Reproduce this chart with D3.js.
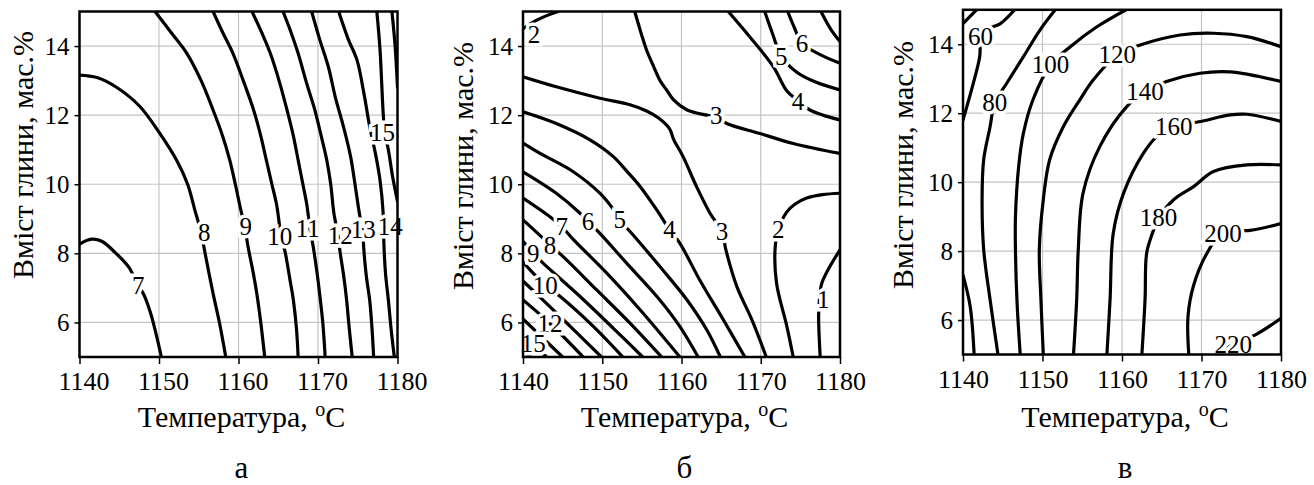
<!DOCTYPE html>
<html>
<head>
<meta charset="utf-8">
<script src="https://cdn.jsdelivr.net/npm/d3@7/dist/d3.min.js"></script>
<style>
  body { margin: 0; background: #fff; }
  svg { display: block; }
  svg text { font-family: "Liberation Serif", "Times New Roman", "DejaVu Serif", serif; }
</style>
</head>
<body>
<svg id="chart" width="1314" height="485"></svg>
<script>
const SERIF = "'Liberation Serif', 'Times New Roman', 'DejaVu Serif', serif";

// axes
const tempTicks = [1140, 1150, 1160, 1170, 1180];
const clayTicks = [6, 8, 10, 12, 14];
const tempDomain = [1140, 1180];
const clayDomain = [5, 15];

// panel а : contour lines, points are [temperature, clay %]
const linesA = [
  { v: 7,  pts: [[1140,8.27],[1141.5,8.41],[1142.8,8.35],[1144.5,8.02],[1146.2,7.6],[1147.3,7.1],[1148.1,6.8],[1148.9,6.3],[1149.6,5.7],[1150.3,5.0]] },
  { v: 8,  pts: [[1140,13.16],[1142.2,13.09],[1144.7,12.8],[1147.6,12.25],[1150.1,11.47],[1152.2,10.7],[1153.6,10.0],[1154.5,9.26],[1155.3,8.6],[1155.8,8.0],[1156.8,6.84],[1157.6,6.0],[1158.4,5.0]] },
  { v: 9,  pts: [[1149.5,15],[1151.5,14.4],[1153.5,13.79],[1155.3,13.0],[1156.8,12.15],[1158.0,11.4],[1158.9,10.7],[1159.6,10.0],[1160.2,9.35],[1160.8,8.75],[1161.2,8.19],[1161.8,7.5],[1162.3,6.84],[1162.8,6.0],[1163.3,5.0]] },
  { v: 10, pts: [[1156.8,15],[1158.0,14.4],[1159.3,13.79],[1160.6,13.0],[1161.9,12.15],[1162.8,11.4],[1163.5,10.7],[1164.2,10.0],[1164.8,9.4],[1165.3,8.6],[1165.9,8.0],[1166.5,7.2],[1166.9,6.65],[1167.3,5.8],[1167.5,5.0]] },
  { v: 11, pts: [[1161.7,15],[1162.9,14.4],[1164.0,13.79],[1165.1,13.0],[1166.1,12.15],[1166.9,11.4],[1167.5,10.7],[1168.1,10.0],[1168.6,9.4],[1169.0,8.7],[1169.4,8.19],[1169.9,7.4],[1170.2,6.84],[1170.6,6.0],[1170.9,5.0]] },
  { v: 12, pts: [[1165.6,15],[1166.6,14.4],[1167.5,13.79],[1168.6,12.9],[1169.6,12.15],[1170.4,11.4],[1171.1,10.7],[1171.6,10.0],[1172.0,9.16],[1172.5,8.55],[1172.8,8.0],[1173.2,7.4],[1173.6,6.65],[1173.9,5.9],[1174.3,5.0]] },
  { v: 13, pts: [[1169.2,15],[1170.2,14.2],[1171.3,13.4],[1172.2,12.5],[1173.2,11.67],[1174.1,10.8],[1174.7,9.93],[1175.2,9.16],[1175.6,8.65],[1175.8,8.0],[1176.1,7.3],[1176.5,6.65],[1176.8,5.8],[1177.0,5.0]] },
  { v: 14, pts: [[1172.6,15],[1173.8,14.2],[1174.9,13.6],[1175.8,12.6],[1176.5,11.67],[1177.3,10.8],[1177.8,10.12],[1178.2,9.16],[1178.25,8.7],[1178.3,8.2],[1178.5,7.4],[1178.85,6.65],[1179.2,5.8],[1179.6,5.0]] },
  { v: 15, pts: [[1177.4,15],[1177.8,13.9],[1178.2,12.05],[1178.4,11.5],[1178.85,11.0],[1179.4,10.2],[1180,9.5]] },
  { v: 16, pts: [[1179.3,15],[1179.7,14.0],[1180,12.8]] }
];
const labelsA = [
  ["7",1147.4,7.06],["8",1155.7,8.61],["9",1160.9,8.77],["10",1165.2,8.48],["11",1168.7,8.72],
  ["12",1172.8,8.51],["13",1175.7,8.70],["14",1179.1,8.77],["15",1178.1,11.5]
];

// panel б
const linesB = [
  { v: 2,  pts: [[1140,14.5],[1141.5,14.72],[1143,14.88],[1144.4,15]] },
  { v: 3,  pts: [[1154.1,15],[1155.0,14.3],[1155.6,13.88],[1156.5,13.4],[1157.3,13.0],[1158.2,12.7],[1159.0,12.44],[1160.7,12.15],[1163.2,12.0],[1164.4,11.95],[1165.7,11.76],[1169.9,11.47],[1174.1,11.18],[1180,10.89]] },
  { v: 3,  pts: [[1140,13.11],[1144.2,12.82],[1149.7,12.49],[1153.5,12.3],[1155.6,12.12],[1157.2,11.9],[1158.5,11.6],[1159.0,11.3],[1160.2,10.8],[1161.9,9.93],[1163.6,9.16],[1165.1,8.63],[1165.6,8.1],[1167.0,7.03],[1168.9,6.07],[1170.7,5.0]] },
  { v: 4,  pts: [[1165.9,15],[1168.6,14.27],[1171.6,13.4],[1173.3,12.7],[1174.7,12.42],[1176.2,12.15],[1180,11.86]] },
  { v: 5,  pts: [[1170.5,15],[1171.5,14.35],[1172.6,13.7],[1174.5,13.25],[1177,12.95],[1180,12.73]] },
  { v: 6,  pts: [[1173.4,15],[1174.3,14.5],[1175.2,14.08],[1177.5,13.75],[1180,13.5]] },
  { v: 7,  pts: [[1177.6,15],[1178.8,14.5],[1180,14.13]] },
  { v: 4,  pts: [[1140,12.1],[1144.2,11.76],[1148.5,11.28],[1151.4,10.8],[1153.2,10.35],[1154.8,9.93],[1156.9,9.25],[1158.5,8.68],[1159.8,8.29],[1162.3,7.23],[1165.3,6.07],[1168.0,5.0]] },
  { v: 5,  pts: [[1140,11.19],[1142.1,10.9],[1146.3,10.37],[1149.7,9.74],[1151.3,9.3],[1152.2,8.97],[1153.9,8.53],[1157.3,7.61],[1160.7,6.65],[1163.2,5.78],[1164.9,5.0]] },
  { v: 6,  pts: [[1140,10.36],[1144.2,9.74],[1147.2,9.16],[1148.2,8.92],[1149.7,8.58],[1153.1,7.71],[1156.9,6.75],[1159.8,5.88],[1162.1,5.0]] },
  { v: 7,  pts: [[1140,9.6],[1143.4,9.06],[1144.9,8.77],[1146.4,8.39],[1150.6,7.42],[1154.8,6.36],[1159.8,5.0]] },
  { v: 8,  pts: [[1140,8.97],[1142.0,8.55],[1143.4,8.24],[1145.1,7.9],[1149.3,6.94],[1153.5,5.98],[1157.5,5.0]] },
  { v: 9,  pts: [[1140,8.35],[1141.3,8.0],[1142.6,7.7],[1147.2,6.75],[1151.4,5.83],[1155.1,5.0]] },
  { v: 10, pts: [[1140,7.75],[1142.8,7.08],[1144.7,6.75],[1148.9,5.88],[1152.6,5.0]] },
  { v: 11, pts: [[1140,7.2],[1145,6.1],[1149.9,5.0]] },
  { v: 12, pts: [[1140,6.65],[1143.4,5.97],[1147.6,5.0]] },
  { v: 13, pts: [[1140,6.1],[1142.5,5.55],[1145.0,5.0]] },
  { v: 14, pts: [[1140,5.6],[1143.0,5.0]] },
  { v: 15, pts: [[1140,5.15],[1141.0,5.0]] },
  { v: 2,  pts: [[1180,9.74],[1177.8,9.7],[1175.8,9.6],[1174.3,9.42],[1173.3,9.2],[1172.2,8.68],[1171.8,8.1],[1172.0,7.13],[1173.3,5.88],[1174.1,5.0]] },
  { v: 1,  pts: [[1180,8.1],[1178.7,7.61],[1177.7,7.13],[1177.4,6.65],[1177.3,6.17],[1177.5,5.0]] }
];
const labelsB = [
  ["2",1141.4,14.32],["3",1164.4,12.0],["4",1174.7,12.39],["5",1172.6,13.69],["6",1175.2,14.08],
  ["3",1165.1,8.63],["4",1158.5,8.68],["5",1152.2,8.97],["6",1148.2,8.92],["7",1144.9,8.77],
  ["8",1143.4,8.24],["9",1141.3,8.0],["10",1142.8,7.08],["12",1143.4,5.97],["15",1141.3,5.4],
  ["2",1172.2,8.68],["1",1177.9,6.65]
];

// panel в
const linesC = [
  { v: 40,  pts: [[1140,14.6],[1141.7,15]] },
  { v: 60,  pts: [[1140,11.8],[1141.3,12.87],[1142.1,13.64],[1142.3,14.2],[1143.2,14.45],[1144.7,14.6],[1146.5,15]] },
  { v: 60,  pts: [[1140,7.3],[1140.9,6.4],[1141.4,5.0]] },
  { v: 80,  pts: [[1144.4,5.0],[1143.4,6.6],[1142.6,8.05],[1142.4,9.49],[1142.6,10.65],[1143.4,11.6],[1144.0,12.3],[1145.5,12.87],[1147.6,13.64],[1149.7,14.42],[1151.6,15]] },
  { v: 100, pts: [[1147.2,5.0],[1146.8,6.5],[1146.6,8.0],[1146.6,9.0],[1147.0,10.45],[1147.6,11.42],[1148.8,12.39],[1151.0,13.4],[1153.5,13.93],[1156.8,14.5],[1160.5,15.0]] },
  { v: 120, pts: [[1150.1,5.0],[1149.8,6.6],[1149.6,8.05],[1150.1,9.49],[1150.9,10.65],[1152.6,11.6],[1154.7,12.39],[1156.4,12.97],[1159.4,13.69],[1162.3,13.98],[1167.3,14.27],[1171.5,14.32],[1175.7,14.22],[1180,13.93]] },
  { v: 140, pts: [[1153.9,5.0],[1154.3,6.6],[1154.5,8.05],[1155.1,9.68],[1157.2,11.03],[1160.6,12.19],[1162.9,12.63],[1165.6,12.92],[1169.8,13.16],[1173.6,13.2],[1180,12.92]] },
  { v: 160, pts: [[1158.1,5.0],[1158.5,6.6],[1158.9,8.52],[1160.2,9.68],[1162.7,10.84],[1164.5,11.35],[1166.5,11.61],[1169.9,11.76],[1173.6,11.95],[1175.7,11.97],[1180,11.76]] },
  { v: 180, pts: [[1162.5,5.0],[1162.9,6.6],[1163.1,7.94],[1163.8,8.5],[1164.6,8.96],[1166.5,9.49],[1169.0,9.87],[1171.5,10.31],[1175.7,10.5],[1180,10.5]] },
  { v: 200, pts: [[1168.4,5.0],[1168.3,6.1],[1169.0,7.0],[1170.6,7.9],[1172.7,8.55],[1176.1,8.6],[1180,8.8]] },
  { v: 220, pts: [[1172.0,5.0],[1174.0,5.29],[1177.0,5.6],[1180,6.05]] }
];
const labelsC = [
  ["60",1142.2,14.22],["80",1144.0,12.31],["100",1151.0,13.4],["120",1159.4,13.69],["140",1162.9,12.63],
  ["160",1166.5,11.61],["180",1164.6,8.96],["200",1172.7,8.52],["220",1174.0,5.29]
];

const svg = d3.select("#chart").attr("font-family", SERIF);

const panels = [
  { lines: linesA, labels: labelsA, letter: "а", x0: 79.5, x1: 397.5, y0: 11.5, y1: 357,   titleX: 33,  titleY: 155, tickShift: 4 },
  { lines: linesB, labels: labelsB, letter: "б", x0: 523,  x1: 840,   y0: 11.5, y1: 357,   titleX: 473, titleY: 166, tickShift: 0 },
  { lines: linesC, labels: labelsC, letter: "в", x0: 963,  x1: 1281,  y0: 9.8,  y1: 354.5, titleX: 913, titleY: 165, tickShift: 0 }
];

panels.forEach((p, i) => drawPanel(p, i));

function drawPanel(p, i) {
  const x = d3.scaleLinear().domain(tempDomain).range([p.x0, p.x1]);
  const y = d3.scaleLinear().domain(clayDomain).range([p.y1, p.y0]);
  const g = svg.append("g");

  g.append("clipPath").attr("id", "clip" + i)
    .append("rect")
    .attr("x", p.x0).attr("y", p.y0)
    .attr("width", p.x1 - p.x0).attr("height", p.y1 - p.y0);

  // grid
  g.append("g").selectAll("line")
    .data(tempTicks.slice(1, -1))
    .join("line")
    .attr("x1", d => x(d)).attr("x2", d => x(d))
    .attr("y1", p.y0).attr("y2", p.y1)
    .attr("stroke", "#c4c4c4").attr("stroke-width", 1.2);
  g.append("g").selectAll("line")
    .data(clayTicks)
    .join("line")
    .attr("y1", d => y(d)).attr("y2", d => y(d))
    .attr("x1", p.x0).attr("x2", p.x1)
    .attr("stroke", "#c4c4c4").attr("stroke-width", 1.2);

  // contour lines
  const line = d3.line()
    .x(d => x(d[0])).y(d => y(d[1]))
    .curve(d3.curveCatmullRom.alpha(0.5));

  g.append("g").attr("clip-path", `url(#clip${i})`)
    .selectAll("path")
    .data(p.lines)
    .join("path")
    .attr("d", d => line(d.pts))
    .attr("fill", "none")
    .attr("stroke", "#000")
    .attr("stroke-width", 3.2)
    .attr("stroke-linecap", "round");

  // contour labels, the white halo cuts the line
  g.append("g").selectAll("text")
    .data(p.labels)
    .join("text")
    .attr("x", d => x(d[1]))
    .attr("y", d => y(d[2]))
    .attr("text-anchor", "middle")
    .attr("dominant-baseline", "central")
    .attr("font-family", SERIF)
    .attr("font-size", 25)
    .attr("fill", "#000")
    .attr("stroke", "#fff")
    .attr("stroke-width", 7)
    .attr("paint-order", "stroke")
    .text(d => d[0]);

  // frame
  g.append("rect")
    .attr("x", p.x0).attr("y", p.y0)
    .attr("width", p.x1 - p.x0).attr("height", p.y1 - p.y0)
    .attr("fill", "none").attr("stroke", "#000").attr("stroke-width", 2.5);

  // x axis
  const xAxis = d3.axisBottom(x).tickValues(tempTicks).tickSize(7).tickPadding(8).tickFormat(d3.format("d"));
  const gx = g.append("g").attr("transform", `translate(0,${p.y1})`).call(xAxis)
    .attr("font-family", SERIF);
  gx.select(".domain").remove();
  gx.selectAll(".tick line").attr("stroke", "#000").attr("stroke-width", 1.5);
  gx.selectAll(".tick text")
    .attr("font-family", SERIF)
    .attr("font-size", 26)
    .attr("fill", "#000")
    .attr("dx", p.tickShift);

  // y axis
  const yAxis = d3.axisLeft(y).tickValues(clayTicks).tickSize(5).tickPadding(5);
  const gy = g.append("g").attr("transform", `translate(${p.x0},0)`).call(yAxis)
    .attr("font-family", SERIF);
  gy.select(".domain").remove();
  gy.selectAll(".tick line").attr("stroke", "#000").attr("stroke-width", 1.5);
  gy.selectAll(".tick text")
    .attr("font-family", SERIF)
    .attr("font-size", 25)
    .attr("fill", "#000");

  // axis titles
  const cx = (p.x0 + p.x1) / 2 + 3;
  const xt = g.append("text")
    .attr("x", cx).attr("y", 427)
    .attr("text-anchor", "middle")
    .attr("font-family", SERIF)
    .attr("font-size", 30);
  xt.append("tspan").text("Температура, ");
  xt.append("tspan").attr("font-size", 20).attr("dy", -11).text("o");
  xt.append("tspan").attr("dy", 11).text("C");

  g.append("text")
    .attr("transform", `translate(${p.titleX},${p.titleY}) rotate(-90)`)
    .attr("text-anchor", "middle")
    .attr("font-family", SERIF)
    .attr("font-size", 30)
    .text("Вміст глини, мас.%");

  g.append("text")
    .attr("x", cx).attr("y", 478)
    .attr("text-anchor", "middle")
    .attr("font-family", SERIF)
    .attr("font-size", 31)
    .text(p.letter);
}
</script>
</body>
</html>
